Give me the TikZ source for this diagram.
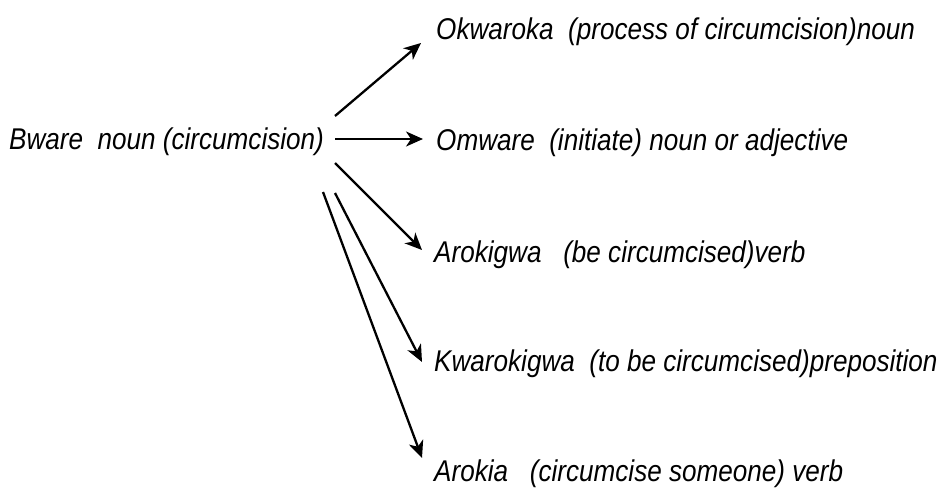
\documentclass[tikz,border=0pt]{standalone}
\usepackage{fontspec}
\setmainfont{Liberation Sans}
\newfontfamily\narit[FakeStretch=0.87]{Liberation Sans Italic}
\usetikzlibrary{arrows.meta}
\tikzset{
  lbl/.style={anchor=base west, inner sep=0pt, font=\narit\fontsize{30}{30}\selectfont},
  arr/.style={line width=2.3pt, -{Stealth[length=17pt,width=15pt,inset=5pt]}}
}
\begin{document}
\begin{tikzpicture}[x=1pt,y=-1pt]
\useasboundingbox (0,0) rectangle (944,487);
\node[lbl] (bware) at (9,149) {Bware\ \ noun (circumcision)};
\node[lbl] (okw) at (436,40) {Okwaroka\ \ (process of circumcision)noun};
\node[lbl] (omw) at (436,150) {Omware\ \ (initiate) noun or adjective};
\node[lbl] (arg) at (434,262) {Arokigwa\ \ \ (be circumcised)verb};
\node[lbl] (kwa) at (434,371) {Kwarokigwa\ \ (to be circumcised)preposition};
\node[lbl] (ark) at (434,481) {Arokia\ \ \ (circumcise someone) verb};
\coordinate (s1) at (335,116);
\coordinate (e1) at (421,43);
\coordinate (s2) at (335,139);
\coordinate (e2) at (423,139);
\coordinate (s3) at (335,163);
\coordinate (e3) at (422,250);
\coordinate (s4) at (335,193);
\coordinate (e4) at (422,362);
\coordinate (s5) at (323,192);
\coordinate (e5) at (422,458);
\draw[arr] (s1) -- (e1);
\draw[arr] (s2) -- (e2);
\draw[arr] (s3) -- (e3);
\draw[arr] (s4) -- (e4);
\draw[arr] (s5) -- (e5);
\end{tikzpicture}
\end{document}
